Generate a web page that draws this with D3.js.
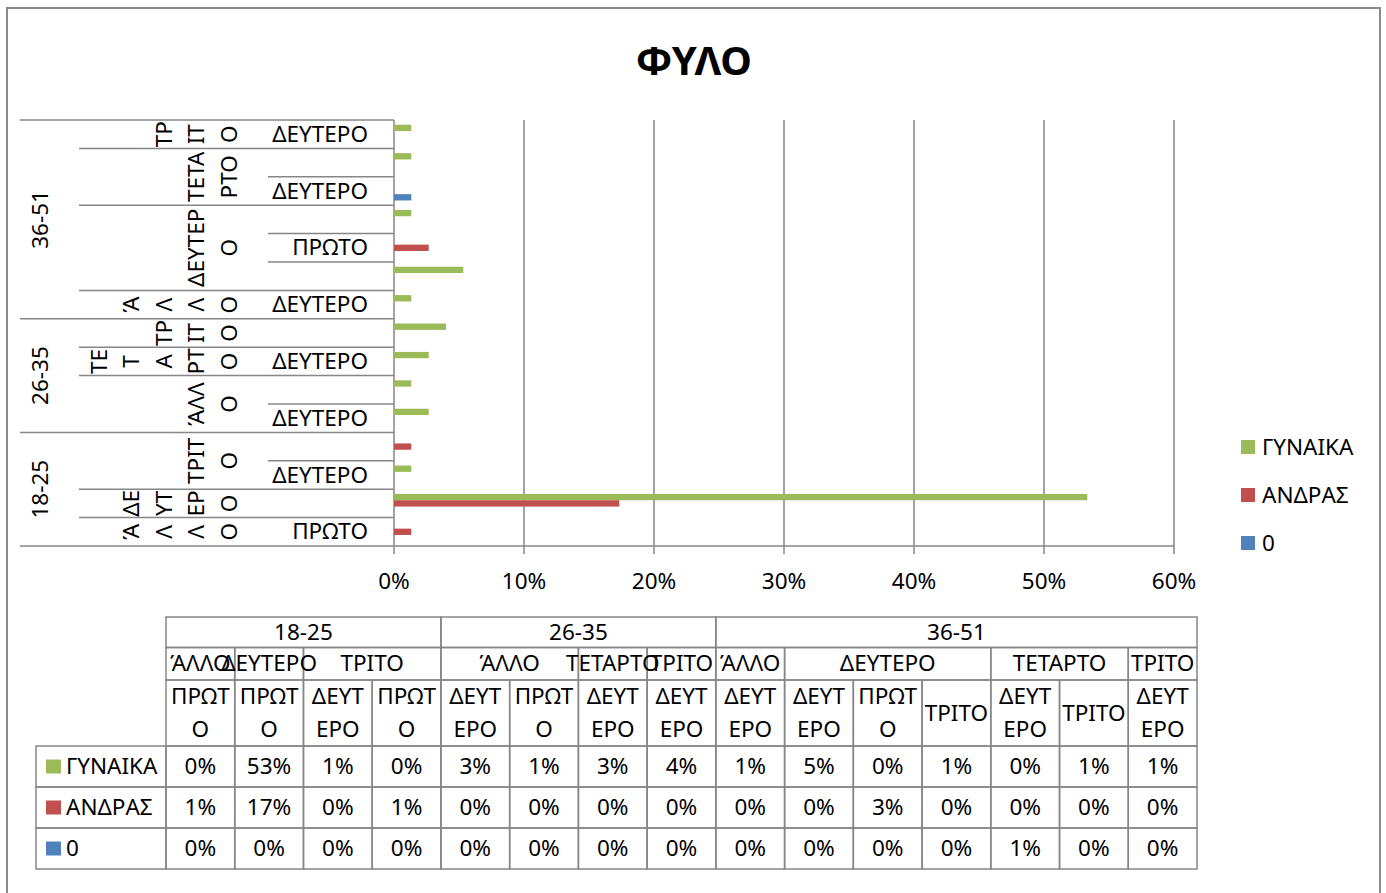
<!DOCTYPE html>
<html>
<head>
<meta charset="utf-8">
<script src="https://cdnjs.cloudflare.com/ajax/libs/d3/7.8.5/d3.min.js"></script>
<style>
    body { margin: 0; background: #fff; }
    svg { display: block; font-family: "Noto Sans", sans-serif; }
</style>
</head>
<body>
<div id="chart"></div>
<script>
// category levels, bottom row first
var outerLabels = ["18-25", "18-25", "18-25", "18-25", "26-35", "26-35", "26-35", "26-35",
    "36-51", "36-51", "36-51", "36-51", "36-51", "36-51", "36-51"];
var midLabels = ["ΆΛΛΟ", "ΔΕΥΤΕΡΟ", "ΤΡΙΤΟ", "ΤΡΙΤΟ", "ΆΛΛΟ", "ΆΛΛΟ", "ΤΕΤΑΡΤΟ", "ΤΡΙΤΟ",
    "ΆΛΛΟ", "ΔΕΥΤΕΡΟ", "ΔΕΥΤΕΡΟ", "ΔΕΥΤΕΡΟ", "ΤΕΤΑΡΤΟ", "ΤΕΤΑΡΤΟ", "ΤΡΙΤΟ"];
var innerLabels = ["ΠΡΩΤΟ", "ΠΡΩΤΟ", "ΔΕΥΤΕΡΟ", "ΠΡΩΤΟ", "ΔΕΥΤΕΡΟ", "ΠΡΩΤΟ", "ΔΕΥΤΕΡΟ", "ΔΕΥΤΕΡΟ",
    "ΔΕΥΤΕΡΟ", "ΔΕΥΤΕΡΟ", "ΠΡΩΤΟ", "ΤΡΙΤΟ", "ΔΕΥΤΕΡΟ", "ΤΡΙΤΟ", "ΔΕΥΤΕΡΟ"];

var seriesNames = ["ΓΥΝΑΙΚΑ", "ΑΝΔΡΑΣ", "0"];
var women = [0, 0.5333, 0.0133, 0, 0.0267, 0.0133, 0.0267, 0.04,
    0.0133, 0.0533, 0, 0.0133, 0, 0.0133, 0.0133];
var men = [0.0133, 0.1733, 0, 0.0133, 0, 0, 0, 0,
    0, 0, 0.0267, 0, 0, 0, 0];
var zero = [0, 0, 0, 0, 0, 0, 0, 0,
    0, 0, 0, 0, 0.0133, 0, 0];

var xTicks = [0, 0.1, 0.2, 0.3, 0.4, 0.5, 0.6];

// how the narrow cells wrap the text
var midWrap = {
    "18-25|ΆΛΛΟ": ["Ά", "Λ", "Λ", "Ο"],
    "18-25|ΔΕΥΤΕΡΟ": ["ΔΕ", "ΥΤ", "ΕΡ", "Ο"],
    "18-25|ΤΡΙΤΟ": ["ΤΡΙΤ", "Ο"],
    "26-35|ΆΛΛΟ": ["ΆΛΛ", "Ο"],
    "26-35|ΤΕΤΑΡΤΟ": ["ΤΕ", "Τ", "Α", "ΡΤ", "Ο"],
    "26-35|ΤΡΙΤΟ": ["ΤΡ", "ΙΤ", "Ο"],
    "36-51|ΆΛΛΟ": ["Ά", "Λ", "Λ", "Ο"],
    "36-51|ΔΕΥΤΕΡΟ": ["ΔΕΥΤΕΡ", "Ο"],
    "36-51|ΤΕΤΑΡΤΟ": ["ΤΕΤΑ", "ΡΤΟ"],
    "36-51|ΤΡΙΤΟ": ["ΤΡ", "ΙΤ", "Ο"]
};
var innerWrap = {
    "ΠΡΩΤΟ": ["ΠΡΩΤ", "Ο"],
    "ΔΕΥΤΕΡΟ": ["ΔΕΥΤ", "ΕΡΟ"],
    "ΤΡΙΤΟ": ["ΤΡΙΤΟ"]
};

var colors = ["#9BBB59", "#C0504D", "#4F81BD"];
var gridColor = "#868686";
var fontSize = 22.5;
var lift = -1; // text sits a hair above the cell centre

var width = 1386,
    height = 893;

var svg = d3.select("#chart")
    .append("svg")
    .attr("width", width)
    .attr("height", height);

svg.append("rect")
    .attr("x", 7).attr("y", 8)
    .attr("width", 1373).attr("height", 900)
    .attr("fill", "#fff")
    .attr("stroke", "#8a8a8a")
    .attr("stroke-width", 2);

svg.append("text")
    .attr("x", 694).attr("y", 59)
    .attr("text-anchor", "middle")
    .attr("dominant-baseline", "central")
    .style("font-size", "40px")
    .style("font-weight", "bold")
    .text("ΦΥΛΟ");

var idx = d3.range(outerLabels.length);
var values = [women, men, zero];

var x = d3.scaleLinear()
    .domain([0, 0.6])
    .range([394, 1174]);

var y = d3.scaleBand()
    .domain(idx)
    .range([546, 120]);

var ySeries = d3.scaleBand()
    .domain(seriesNames)
    .range([0, y.bandwidth()])
    .paddingOuter(0.75);

// gridlines with their tick marks
svg.append("g")
    .selectAll("line")
    .data(xTicks)
    .enter().append("line")
    .attr("x1", function (d) { return x(d); })
    .attr("x2", function (d) { return x(d); })
    .attr("y1", 120)
    .attr("y2", 554)
    .attr("stroke", gridColor)
    .attr("stroke-width", 1.5);

svg.append("line")
    .attr("x1", x(0)).attr("x2", x(0.6))
    .attr("y1", 546).attr("y2", 546)
    .attr("stroke", gridColor)
    .attr("stroke-width", 1.5);

svg.append("g")
    .selectAll("text")
    .data(xTicks)
    .enter().append("text")
    .attr("x", function (d) { return x(d); })
    .attr("y", 580)
    .attr("text-anchor", "middle")
    .attr("dominant-baseline", "central")
    .style("font-size", fontSize + "px")
    .text(d3.format(".0%"));

// bars
seriesNames.forEach(function (name, s) {
    svg.append("g")
        .attr("fill", colors[s])
        .selectAll("rect")
        .data(idx.filter(function (i) { return values[s][i] > 0; }))
        .enter().append("rect")
        .attr("x", x(0))
        .attr("y", function (i) { return y(i) + ySeries(name); })
        .attr("width", function (i) { return x(values[s][i]) - x(0); })
        .attr("height", ySeries.bandwidth());
});

// category axis: separator lines between rows
var bounds = d3.range(outerLabels.length + 1);
svg.append("g")
    .selectAll("line")
    .data(bounds)
    .enter().append("line")
    .attr("x1", function (b) {
        if (b === 0 || b === outerLabels.length || outerLabels[b] !== outerLabels[b - 1]) return 20;
        if (midLabels[b] !== midLabels[b - 1]) return 79;
        return 268;
    })
    .attr("x2", x(0))
    .attr("y1", function (b) { return b === outerLabels.length ? 120 : y(b) + y.bandwidth(); })
    .attr("y2", function (b) { return b === outerLabels.length ? 120 : y(b) + y.bandwidth(); })
    .attr("stroke", gridColor)
    .attr("stroke-width", 1.5);

// inner labels, every second one
svg.append("g")
    .selectAll("text")
    .data(idx.filter(function (i) { return i % 2 === 0; }))
    .enter().append("text")
    .attr("x", 368)
    .attr("y", function (i) { return y(i) + y.bandwidth() / 2 + lift; })
    .attr("text-anchor", "end")
    .attr("dominant-baseline", "central")
    .style("font-size", fontSize + "px")
    .text(function (i) { return innerLabels[i]; });

// run length groups
function groups(keyFn) {
    var out = [];
    idx.forEach(function (i) {
        var k = keyFn(i);
        var last = out[out.length - 1];
        if (last && last.key === k) last.end = i;
        else out.push({ key: k, start: i, end: i });
    });
    return out;
}

var outerGroups = groups(function (i) { return outerLabels[i]; });
var midGroups = groups(function (i) { return outerLabels[i] + "|" + midLabels[i]; });

function groupMidY(g) {
    return (y(g.start) + y.bandwidth() + y(g.end)) / 2;
}

svg.append("g")
    .selectAll("text")
    .data(outerGroups)
    .enter().append("text")
    .attr("transform", function (g) { return "translate(39," + groupMidY(g) + ") rotate(-90)"; })
    .attr("text-anchor", "middle")
    .attr("dominant-baseline", "central")
    .style("font-size", fontSize + "px")
    .text(function (g) { return g.key; });

midGroups.forEach(function (g) {
    var lines = midWrap[g.key];
    svg.append("g")
        .selectAll("text")
        .data(lines)
        .enter().append("text")
        .attr("transform", function (d, k) {
            var lx = 228 - (lines.length - 1 - k) * 32.5;
            return "translate(" + lx + "," + groupMidY(g) + ") rotate(-90)";
        })
        .attr("text-anchor", "middle")
        .attr("dominant-baseline", "central")
        .style("font-size", fontSize + "px")
        .text(function (d) { return d; });
});

// legend
var legend = svg.append("g")
    .selectAll("g")
    .data(seriesNames)
    .enter().append("g")
    .attr("transform", function (d, s) { return "translate(1241," + (447 + s * 48) + ")"; });

legend.append("rect")
    .attr("x", 0).attr("y", -7)
    .attr("width", 14).attr("height", 14)
    .attr("fill", function (d, s) { return colors[s]; });

legend.append("text")
    .attr("x", 21)
    .attr("y", lift)
    .attr("dominant-baseline", "central")
    .style("font-size", fontSize + "px")
    .text(function (d) { return d; });

// data table
var col = d3.scaleBand()
    .domain(idx)
    .range([166, 1197]);

var rowY = [617, 647.5, 680, 746, 787, 828, 869];
var table = svg.append("g")
    .attr("fill", "none")
    .attr("stroke", gridColor)
    .attr("stroke-width", 1.5);

function cell(x0, x1, y0, y1) {
    table.append("rect")
        .attr("x", x0).attr("y", y0)
        .attr("width", x1 - x0).attr("height", y1 - y0);
}

function tableText(tx, ty, str) {
    svg.append("text")
        .attr("x", tx)
        .attr("y", ty + lift)
        .attr("text-anchor", "middle")
        .attr("dominant-baseline", "central")
        .style("font-size", fontSize + "px")
        .text(str);
}

outerGroups.forEach(function (g) {
    var x0 = col(g.start), x1 = col(g.end) + col.bandwidth();
    cell(x0, x1, rowY[0], rowY[1]);
    tableText((x0 + x1) / 2, (rowY[0] + rowY[1]) / 2, g.key);
});

midGroups.forEach(function (g) {
    var x0 = col(g.start), x1 = col(g.end) + col.bandwidth();
    cell(x0, x1, rowY[1], rowY[2]);
    tableText((x0 + x1) / 2, (rowY[1] + rowY[2]) / 2, midLabels[g.start]);
});

idx.forEach(function (i) {
    var x0 = col(i), cx = x0 + col.bandwidth() / 2;
    cell(x0, x0 + col.bandwidth(), rowY[2], rowY[3]);
    var lines = innerWrap[innerLabels[i]];
    var mid = (rowY[2] + rowY[3]) / 2;
    lines.forEach(function (t, k) {
        tableText(cx, mid + (k - (lines.length - 1) / 2) * 33, t);
    });
    values.forEach(function (v, s) {
        cell(x0, x0 + col.bandwidth(), rowY[3 + s], rowY[4 + s]);
        tableText(cx, (rowY[3 + s] + rowY[4 + s]) / 2, d3.format(".0%")(v[i]));
    });
});

seriesNames.forEach(function (name, s) {
    var y0 = rowY[3 + s], y1 = rowY[4 + s];
    cell(36, 166, y0, y1);
    svg.append("rect")
        .attr("x", 46).attr("y", (y0 + y1) / 2 - 7)
        .attr("width", 15).attr("height", 14)
        .attr("fill", colors[s]);
    svg.append("text")
        .attr("x", 66)
        .attr("y", (y0 + y1) / 2 + lift)
        .attr("dominant-baseline", "central")
        .style("font-size", fontSize + "px")
        .text(name);
});
</script>
</body>
</html>
